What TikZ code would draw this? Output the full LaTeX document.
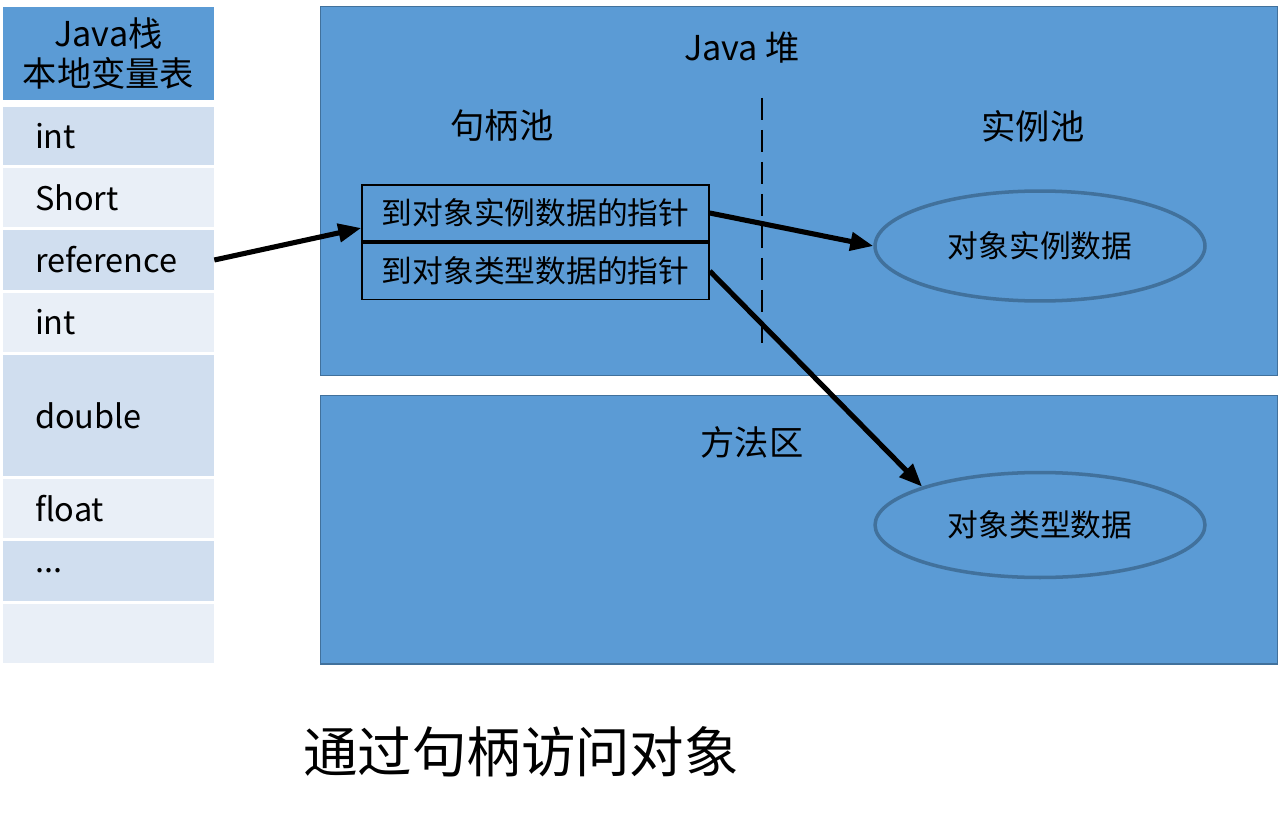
\documentclass[tikz,border=0pt]{standalone}
\usepackage{fontspec}
\setmainfont{Noto Sans CJK SC}
\usepackage{tikz}
\usetikzlibrary{positioning,arrows.meta,shapes.geometric}

\definecolor{headblue}{HTML}{5B9BD5}
\definecolor{edgeblue}{HTML}{41719C}
\definecolor{rowdark}{HTML}{D0DEEF}
\definecolor{rowlight}{HTML}{E9EFF7}

\tikzset{
	rowbox/.style={minimum width=4.22cm, text width=2.94cm, inner xsep=0.64cm, inner ysep=0pt, align=left, font=\fontsize{18.5}{22}\selectfont},
	area/.style={draw=edgeblue, fill=headblue, line width=0.6pt, minimum width=19.16cm},
	ptrbox/.style={draw=black, line width=0.9pt, minimum width=6.94cm, minimum height=1.13cm, inner sep=0pt, font=\fontsize{17.5}{21}\selectfont},
	datanode/.style={ellipse, draw=edgeblue, line width=2pt, minimum width=6.6cm, font=\fontsize{17.5}{21}\selectfont},
	biglabel/.style={font=\fontsize{19.5}{23}\selectfont},
	pointer/.style={line width=2.9pt, -{Triangle[length=0.46cm,width=0.36cm]}}
}

\begin{document}
\begin{tikzpicture}[x=0.02cm, y=-0.02cm]
			
			\useasboundingbox (0,0) rectangle (1280,814);
			
			\node[fill=headblue, minimum width=4.22cm, minimum height=1.86cm, align=center, biglabel] (stack) at (108.5,53.5) {Java栈\\本地变量表};
			
			\foreach \n/\y/\h/\txt/\c in {
				1/136/58/int/rowdark,
				2/197.5/59/Short/rowlight,
				3/260/60/reference/rowdark,
				4/322.5/59/int/rowlight,
				5/415.5/121/double/rowdark,
				6/508.5/59/float/rowlight,
				7/571/60/{...}/rowdark,
				8/633.5/59/{}/rowlight}
			{
				\node[rowbox, fill=\c, minimum height=\h*0.02cm] (row\n) at (108.5,\y) {\txt};
			}
			
			\node[area, minimum height=7.4cm] (heap) at (799,191) {};
			\node[area, minimum height=5.38cm] (method) at (799,529.5) {};
			
			\node[biglabel] (heaplbl) at (742,48) {Java 堆};
			\node[biglabel] (handlepool) at (502,126) {句柄池};
			\node[biglabel] (instpool) at (1033,126) {实例池};
			\node[biglabel] (methodlbl) at (752,442) {方法区};
			
			\draw[line width=1.6pt, dash pattern=on 0.44cm off 0.2cm] (762,98) -- (762,343);
			
			\node[ptrbox] (ptr1) at (535.5,213) {到对象实例数据的指针};
			\node[ptrbox, below=0pt of ptr1] (ptr2) {到对象类型数据的指针};
			
			\node[datanode, minimum height=2.2cm] (inst) at (1040,246) {对象实例数据};
			\node[datanode, minimum height=2.1cm] (type) at (1040,525) {对象类型数据};
			
			\draw[pointer] (row3.east) -- ([yshift=-0.3cm]ptr1.west);
			\draw[pointer] (ptr1.east) -- (inst.west);
			\draw[pointer] (ptr2.east) -- (type.north west);
			
			\node[font=\fontsize{31}{37}\selectfont] (title) at (521,752) {通过句柄访问对象};
			
		\end{tikzpicture}
\end{document}
